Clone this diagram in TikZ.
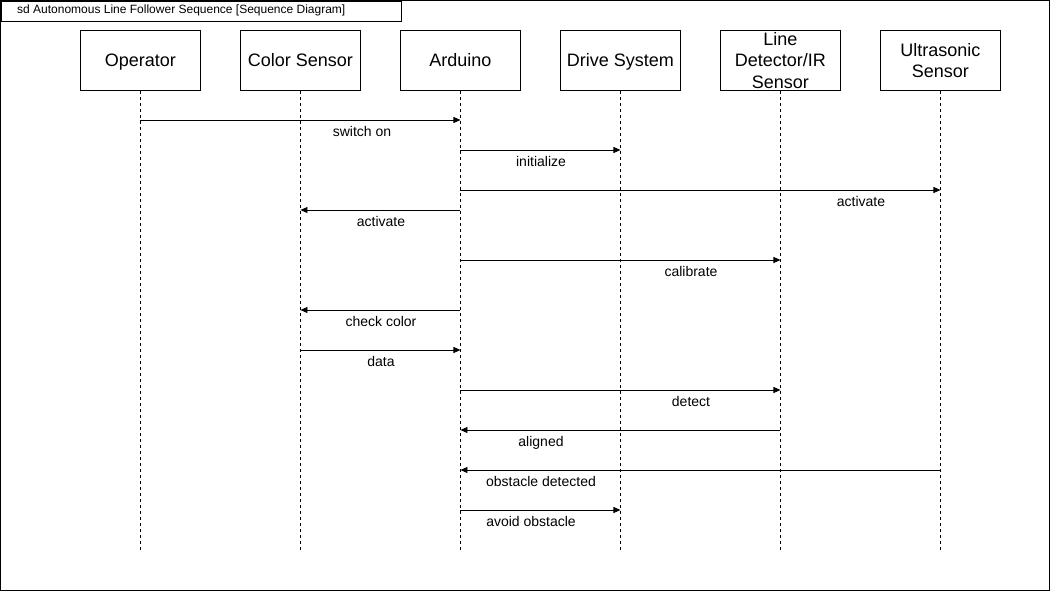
\documentclass[tikz,border=0pt]{standalone}
\usepackage{fontspec}
\setmainfont{Liberation Sans}
\usetikzlibrary{arrows.meta}
\begin{document}
\begin{tikzpicture}[x=1pt,y=-1pt,
  lifebox/.style={draw,line width=0.9pt,minimum width=120pt,minimum height=60pt,inner sep=0pt,
    font=\fontsize{18}{21.6}\selectfont,align=center,anchor=north west},
  oneline/.style={text depth=0pt},
  lifeline/.style={line width=0.8pt,dash pattern=on 3pt off 3pt},
  msg/.style={line width=0.9pt,-{Triangle[length=7pt,width=6pt]}},
  lbl/.style={font=\fontsize{14}{16}\selectfont,inner sep=0pt,text depth=0pt}]
\useasboundingbox (0,0) rectangle (1051,592);
% frame
\draw[line width=0.9pt] (0.5,0.5) rectangle (1049.5,590);
\node[draw,line width=0.9pt,anchor=north west,minimum width=400pt,minimum height=20pt,inner sep=0pt] (tab) at (0.5,0.5) {};
\node[anchor=west,inner sep=0pt,font=\fontsize{12}{14}\selectfont] (title) at (17,10.5) {sd Autonomous Line Follower Sequence [Sequence Diagram]};
% lifeline heads
\node[lifebox,oneline] (op) at (80,30) {Operator};
\node[lifebox,oneline] (cs) at (240,30) {Color Sensor};
\node[lifebox,oneline] (ard) at (400,30) {Arduino};
\node[lifebox,oneline] (ds) at (560,30) {Drive System};
\node[lifebox] (ld) at (720,30) {Line\\Detector/IR\\Sensor};
\node[lifebox] (us) at (880,30) {Ultrasonic\\Sensor};
% lifelines
\foreach \n in {op,cs,ard,ds,ld,us}{
  \coordinate (\n-end) at (\n.south |- 0,550);
  \draw[lifeline] (\n.south) -- (\n-end);
}
% messages
\draw[msg] (op.south |- 0,120) -- (ard.south |- 0,120);
\node[lbl] (l1) at (362,131) {switch on};
\draw[msg] (ard.south |- 0,150) -- (ds.south |- 0,150);
\node[lbl] (l2) at (541,161) {initialize};
\draw[msg] (ard.south |- 0,190) -- (us.south |- 0,190);
\node[lbl] (l3) at (861,201) {activate};
\draw[msg] (ard.south |- 0,210) -- (cs.south |- 0,210);
\node[lbl] (l4) at (381,221) {activate};
\draw[msg] (ard.south |- 0,260) -- (ld.south |- 0,260);
\node[lbl] (l5) at (691,271) {calibrate};
\draw[msg] (ard.south |- 0,310) -- (cs.south |- 0,310);
\node[lbl] (l6) at (381,321) {check color};
\draw[msg] (cs.south |- 0,350) -- (ard.south |- 0,350);
\node[lbl] (l7) at (381,361) {data};
\draw[msg] (ard.south |- 0,390) -- (ld.south |- 0,390);
\node[lbl] (l8) at (691,401) {detect};
\draw[msg] (ld.south |- 0,430) -- (ard.south |- 0,430);
\node[lbl] (l9) at (541,441) {aligned};
\draw[msg] (us.south |- 0,470) -- (ard.south |- 0,470);
\node[lbl] (l10) at (541,481) {obstacle detected};
\draw[msg] (ard.south |- 0,510) -- (ds.south |- 0,510);
\node[lbl] (l11) at (531,521) {avoid obstacle};
\end{tikzpicture}
\end{document}
